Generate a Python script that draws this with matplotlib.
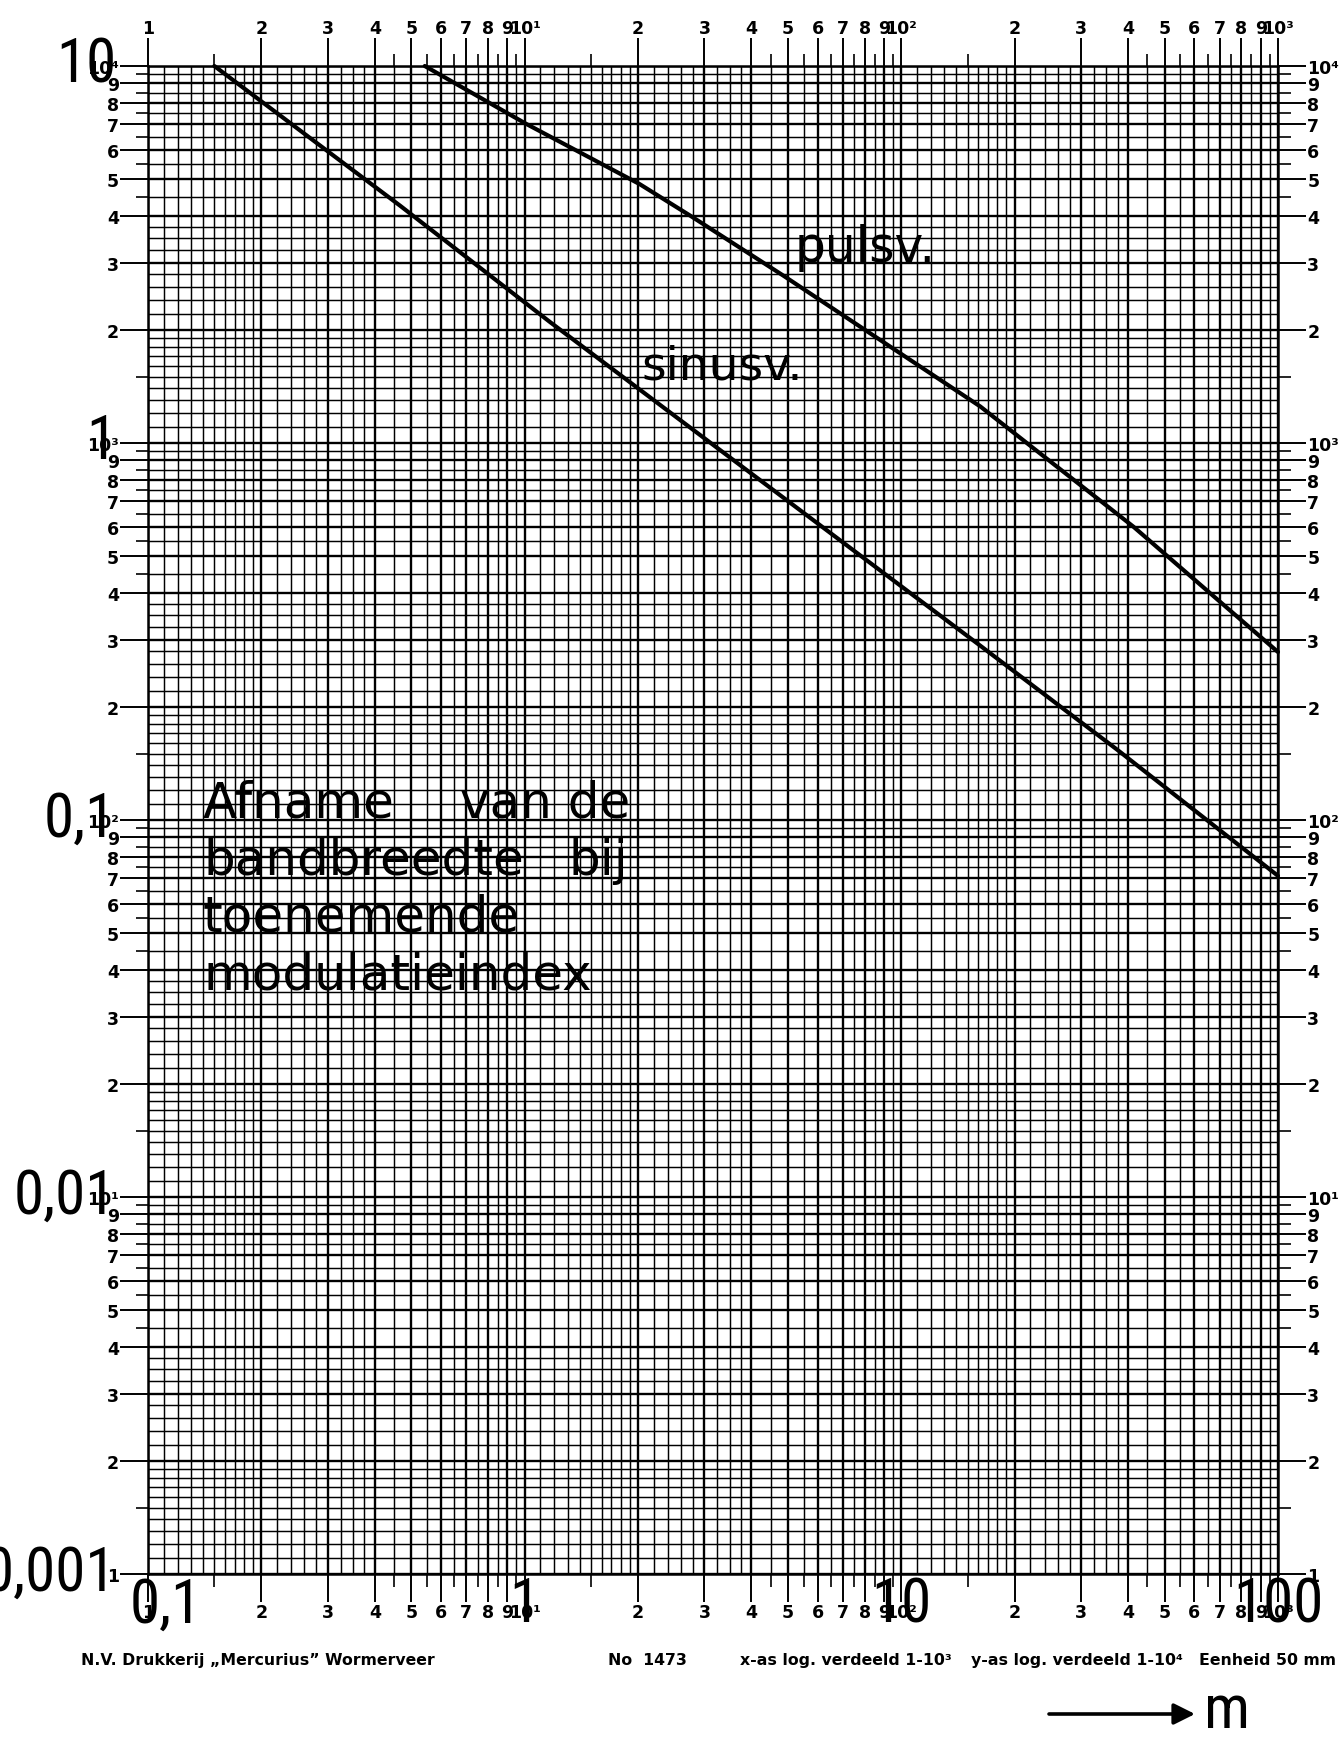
import matplotlib
matplotlib.use("Agg")
import matplotlib.pyplot as plt
from matplotlib import font_manager as fm
from matplotlib.ticker import FixedLocator, FixedFormatter, NullFormatter

# ---------------- data ----------------
sinus_m = [0.15, 0.467, 1.17, 2.53, 16.2, 37.3, 100]
sinus_bw = [10.0, 4.26, 2.09, 1.17, 0.29, 0.154, 0.0711]

puls_m = [0.543, 1.01, 2.02, 2.75, 4.86, 16.2, 41.3, 100]
puls_bw = [10.0, 7.02, 4.86, 4.01, 2.78, 1.25, 0.6, 0.279]

x_decades = [0.1, 1, 10]
y_decades = [0.001, 0.01, 0.1, 1]
x_decade_names = ["1", "10\u00b9", "10\u00b2", "10\u00b3"]
y_decade_names = ["1", "10\u00b9", "10\u00b2", "10\u00b3", "10\u2074"]
digit_labels = ["2", "3", "4", "5", "6", "7", "8", "9"]

big_y_values = [10, 1, 0.1, 0.01, 0.001]
big_y_labels = ["10", "1", "0,1", "0,01", "0,001"]
big_x_values = [0.1, 1, 10, 100]
big_x_labels = ["0,1", "1", "10", "100"]

# paper ruling multipliers within one decade
grid_major_mult = [1, 2, 3, 4, 5, 6, 7, 8, 9]
grid_minor_mult = ([1.1, 1.2, 1.3, 1.4, 1.5, 1.6, 1.7, 1.8, 1.9]
                   + [2.2, 2.4, 2.6, 2.8]
                   + [3.25, 3.5, 3.75]
                   + [4.5, 5.5, 6.5, 7.5, 8.5, 9.5])
tick_minor_mult = [1.5, 4.5, 5.5, 6.5, 7.5, 8.5, 9.5]

# ---------------- narrow font for the large hand-lettered numbers ----------------
_names = {f.name for f in fm.fontManager.ttflist}
_dv_cond = any(f.name == "DejaVu Sans" and "condensed" in str(f.stretch)
               for f in fm.fontManager.ttflist)
if "Liberation Sans Narrow" in _names:
    NARROW = dict(family=["Liberation Sans Narrow", "DejaVu Sans"], fontstretch="normal")
    BIG = 44
elif "Roboto Condensed" in _names:
    NARROW = dict(family=["Roboto Condensed", "DejaVu Sans"], fontstretch="normal")
    BIG = 44
elif _dv_cond:
    NARROW = dict(family=["DejaVu Sans"], fontstretch="condensed")
    BIG = 38
else:
    NARROW = dict(family=["DejaVu Sans"], fontstretch="normal")
    BIG = 33

W, H = 1344, 1740
fig = plt.figure(figsize=(W / 100, H / 100), dpi=100)
fig.patch.set_facecolor("white")


def fpos(x, y):
    return x / W, 1 - y / H


ax = fig.add_axes([148 / W, 1 - 1575 / H, (1278 - 148) / W, (1575 - 67) / H])
ax.set_xscale("log")
ax.set_yscale("log")
ax.set_xlim(0.1, 100)
ax.set_ylim(0.001, 10)

# ---------------- ruling ----------------
xmaj = [d * k for d in x_decades for k in grid_major_mult] + [100]
xmin = [d * k for d in x_decades for k in grid_minor_mult]
ymaj = [d * k for d in y_decades for k in grid_major_mult] + [10]
ymin = [d * k for d in y_decades for k in grid_minor_mult]

ax.vlines(xmin, 0, 1, transform=ax.get_xaxis_transform(), colors="black", lw=1.05, zorder=1)
ax.hlines(ymin, 0, 1, transform=ax.get_yaxis_transform(), colors="black", lw=1.05, zorder=1)
ax.vlines(xmaj, 0, 1, transform=ax.get_xaxis_transform(), colors="black", lw=1.7, zorder=1.2)
ax.hlines(ymaj, 0, 1, transform=ax.get_yaxis_transform(), colors="black", lw=1.7, zorder=1.2)

for s in ax.spines.values():
    s.set_linewidth(1.8)

# ---------------- ticks ----------------
x_tick_labels = []
for i in range(len(x_decades)):
    x_tick_labels += [x_decade_names[i]] + digit_labels
x_tick_labels += [x_decade_names[-1]]
y_tick_labels = []
for i in range(len(y_decades)):
    y_tick_labels += [y_decade_names[i]] + digit_labels
y_tick_labels += [y_decade_names[-1]]

ax.xaxis.set_major_locator(FixedLocator(xmaj))
ax.xaxis.set_major_formatter(FixedFormatter(x_tick_labels))
ax.yaxis.set_major_locator(FixedLocator(ymaj))
ax.yaxis.set_major_formatter(FixedFormatter(y_tick_labels))
ax.xaxis.set_minor_locator(FixedLocator([d * k for d in x_decades for k in tick_minor_mult]))
ax.yaxis.set_minor_locator(FixedLocator([d * k for d in y_decades for k in tick_minor_mult]))
ax.xaxis.set_minor_formatter(NullFormatter())
ax.yaxis.set_minor_formatter(NullFormatter())

ax.tick_params(which="major", direction="out", length=20, width=1.4,
               top=True, right=True, labeltop=True, labelright=True,
               labelsize=12.5, pad=1)
ax.tick_params(which="minor", direction="out", length=9, width=1.2,
               top=True, right=True)
for t in ax.xaxis.get_major_ticks() + ax.yaxis.get_major_ticks():
    t.label1.set_fontweight("bold")
    t.label2.set_fontweight("bold")

# ---------------- curves ----------------
ax.plot(sinus_m, sinus_bw, color="black", lw=3.0, solid_capstyle="round",
        solid_joinstyle="round", zorder=5, clip_on=False)
ax.plot(puls_m, puls_bw, color="black", lw=3.0, solid_capstyle="round",
        solid_joinstyle="round", zorder=5, clip_on=False)

# ---------------- large hand-lettered scale labels ----------------
for v, s in zip(big_y_values, big_y_labels):
    ax.annotate(s, xy=(0, v), xycoords=("axes fraction", "data"),
                xytext=(-23, -11), textcoords="offset points",
                ha="right", va="baseline", fontsize=BIG,
                fontweight="normal", zorder=6, annotation_clip=False, **NARROW)
for v, s in zip(big_x_values, big_x_labels):
    ha = "left" if v == big_x_values[0] else "center"
    dx = -13 if v == big_x_values[0] else 0
    ax.annotate(s, xy=(v, 0), xycoords=("data", "axes fraction"),
                xytext=(dx, -34), textcoords="offset points",
                ha=ha, va="baseline", fontsize=BIG,
                fontweight="normal", zorder=6, annotation_clip=False, **NARROW)

# ---------------- annotations ----------------
tk = dict(fontsize=36, family="DejaVu Sans", fontweight="normal", va="baseline", zorder=6)
fig.text(*fpos(203, 818), "Afname", ha="left", **tk)
fig.text(*fpos(630, 818), "van de", ha="right", **tk)
fig.text(*fpos(203, 875), "bandbreedte", ha="left", **tk)
fig.text(*fpos(628, 875), "bij", ha="right", **tk)
fig.text(*fpos(203, 932), "toenemende", ha="left", **tk)
fig.text(*fpos(203, 989), "modulatieindex", ha="left", **tk)

fig.text(*fpos(795, 262), "pulsv.", ha="left", fontsize=35, family="DejaVu Sans",
         fontweight="normal", va="baseline")
fig.text(*fpos(641, 380), "sinusv.", ha="left", fontsize=34, family="DejaVu Sans",
         fontweight="normal", va="baseline")

# ---------------- footer ----------------
ft = dict(fontsize=11.3, family="DejaVu Sans", fontweight="bold", va="center")
fig.text(*fpos(81, 1661), "N.V. Drukkerij \u201eMercurius\u201d Wormerveer", ha="left", **ft)
fig.text(*fpos(608, 1661), "No  1473", ha="left", **ft)
fig.text(*fpos(740, 1661), "x-as log. verdeeld 1-10\u00b3", ha="left", **ft)
fig.text(*fpos(971, 1661), "y-as log. verdeeld 1-10\u2074", ha="left", **ft)
fig.text(*fpos(1199, 1661), "Eenheid 50 mm", ha="left", **ft)

fig.add_artist(plt.Annotation("", xy=(1195, H - 1715), xytext=(1049, H - 1715),
                              xycoords="figure pixels", textcoords="figure pixels",
                              arrowprops=dict(arrowstyle="-|>", lw=2.6, color="black",
                                              mutation_scale=32, shrinkA=0, shrinkB=0)))
fig.text(*fpos(1204, 1728), "m", ha="left", va="baseline", fontsize=BIG,
         fontweight="normal", **NARROW)

fig.savefig("out.png", dpi=100, facecolor="white")
